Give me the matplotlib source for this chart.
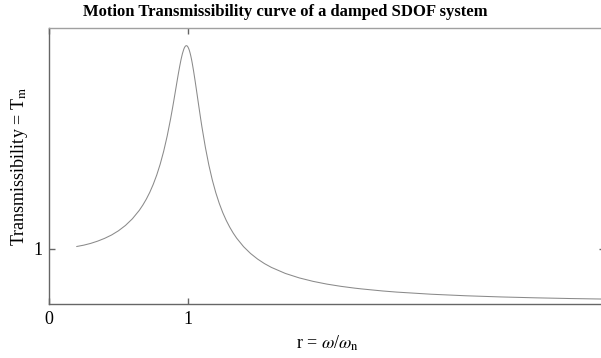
import matplotlib.pyplot as plt

plt.rcParams['font.family'] = ['Liberation Serif', 'DejaVu Serif']
plt.rcParams['mathtext.fontset'] = 'stix'

# frequency ratio r and transmissibility
r = [0.2, 0.25, 0.3, 0.35, 0.4, 0.45, 0.5, 0.55, 0.6, 0.65, 0.675, 0.7,
     0.725, 0.75, 0.775, 0.8, 0.825, 0.85, 0.875, 0.89, 0.9, 0.91, 0.925,
     0.93, 0.94, 0.95, 0.96, 0.97, 0.975, 0.98, 0.985, 0.99, 0.995, 1.0,
     1.005, 1.01, 1.015, 1.02, 1.025, 1.03, 1.04, 1.05, 1.06, 1.075, 1.09,
     1.1, 1.125, 1.15, 1.175, 1.2, 1.225, 1.25, 1.275, 1.3, 1.325, 1.35,
     1.4, 1.45, 1.5, 1.55, 1.6, 1.7, 1.8, 1.9, 2.0, 2.1, 2.2, 2.25, 2.4,
     2.5, 2.75, 3.0, 3.25, 3.5, 3.75, 4.0]
Tm = [1.042, 1.066, 1.098, 1.139, 1.189, 1.250, 1.327, 1.423, 1.544, 1.698,
      1.792, 1.899, 2.023, 2.168, 2.336, 2.534, 2.767, 3.040, 3.358, 3.568,
      3.715, 3.865, 4.090, 4.163, 4.303, 4.430, 4.537, 4.618, 4.647, 4.667,
      4.678, 4.680, 4.672, 4.654, 4.627, 4.592, 4.547, 4.495, 4.436, 4.370,
      4.223, 4.061, 3.891, 3.630, 3.374, 3.211, 2.838, 2.517, 2.245, 2.016,
      1.822, 1.656, 1.515, 1.393, 1.286, 1.193, 1.038, 0.915, 0.815, 0.732,
      0.663, 0.554, 0.473, 0.410, 0.360, 0.320, 0.287, 0.273, 0.236, 0.216,
      0.177, 0.149, 0.128, 0.112, 0.099, 0.089]

fig = plt.figure(figsize=(6.01, 3.58), dpi=100)
ax = fig.add_axes([49/601, 54/358, 556/601, 276/358])

ax.plot(r, Tm, color='#8a8a8a', linewidth=0.75)

ax.set_xlim(0, 4)
ax.set_ylim(0, 5)
ax.set_xticks([0, 1])
ax.set_yticks([1])
ax.tick_params(direction='in', length=4, width=1, color='#666666',
               top=True, right=True, labelsize=13, pad=5)
for s in ax.spines.values():
    s.set_color('#666666')
    s.set_linewidth(1)
ax.spines['top'].set_color('#a0a0a0')

ax.set_xlabel(r'r = $\omega$/$\omega_{\rm n}$', fontsize=13, labelpad=4)
ax.set_ylabel(r'Transmissibility = T$_{\rm m}$', fontsize=13, labelpad=2)
fig.text(285/601, 1 - 12/358, 'Motion Transmissibility curve of a damped SDOF system',
         ha='center', va='center', fontsize=12, fontweight='bold')

plt.savefig('out.png', dpi=100)
